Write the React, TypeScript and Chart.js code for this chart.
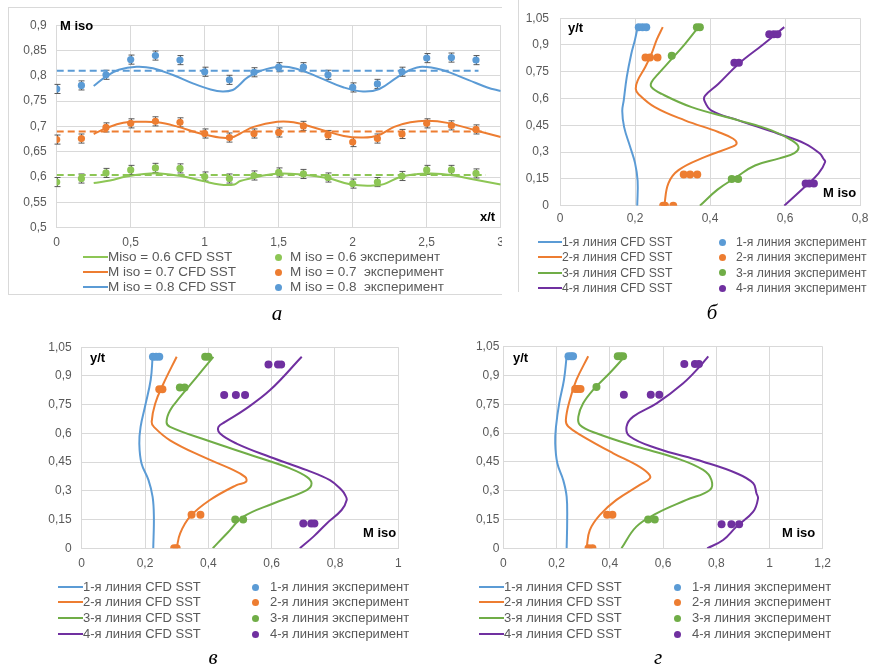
import React, { useEffect, useRef } from "react";
import { Chart, registerables } from "chart.js";
Chart.register(...registerables);

const BLUE = "#5B9BD5";
const ORANGE = "#ED7D31";
const GREEN = "#70AD47";
const PURPLE = "#7030A0";
const GREEN_A = "#8DC655";
const FONT = '"Liberation Sans", Arial, sans-serif';

// ---------- Panel а ----------
const A_EXP_X = [0, 0.167, 0.333, 0.5, 0.667, 0.833, 1, 1.167, 1.333, 1.5, 1.667, 1.833, 2, 2.167, 2.333, 2.5, 2.667, 2.833];
const A_EXP_08 = [0.774, 0.781, 0.802, 0.832, 0.84, 0.831, 0.808, 0.792, 0.807, 0.817, 0.817, 0.802, 0.777, 0.784, 0.808, 0.835, 0.836, 0.831];
const A_EXP_07 = [0.674, 0.676, 0.698, 0.706, 0.71, 0.708, 0.686, 0.678, 0.686, 0.688, 0.701, 0.683, 0.669, 0.676, 0.685, 0.706, 0.702, 0.694];
const A_EXP_06 = [0.59, 0.597, 0.608, 0.614, 0.618, 0.617, 0.601, 0.597, 0.603, 0.609, 0.606, 0.599, 0.587, 0.59, 0.602, 0.614, 0.614, 0.607];
const A_ERR = 0.009;

const A_CFD08_X = [0.25, 0.33, 0.42, 0.54, 0.65, 0.79, 0.92, 1.04, 1.12, 1.19, 1.23, 1.29, 1.38, 1.5, 1.62, 1.78, 1.94, 2.07, 2.18, 2.3, 2.39, 2.47, 2.6, 2.78, 2.91, 3.0];
const A_CFD08_Y = [0.78, 0.798, 0.812, 0.818, 0.815, 0.801, 0.785, 0.773, 0.769, 0.772, 0.781, 0.797, 0.81, 0.818, 0.814, 0.796, 0.777, 0.769, 0.774, 0.797, 0.812, 0.818, 0.812, 0.792, 0.777, 0.77];
const A_CFD07_X = [0.25, 0.34, 0.45, 0.56, 0.68, 0.81, 0.97, 1.1, 1.18, 1.24, 1.33, 1.49, 1.6, 1.76, 1.94, 2.07, 2.17, 2.28, 2.39, 2.5, 2.64, 2.82, 3.0];
const A_CFD07_Y = [0.685, 0.697, 0.707, 0.709, 0.708, 0.7, 0.686, 0.678, 0.678, 0.686, 0.699, 0.709, 0.708, 0.696, 0.681, 0.678, 0.682, 0.699, 0.708, 0.711, 0.707, 0.693, 0.679];
const A_CFD06_X = [0.25, 0.36, 0.47, 0.59, 0.7, 0.84, 0.99, 1.1, 1.2, 1.24, 1.38, 1.5, 1.65, 1.83, 1.99, 2.14, 2.21, 2.32, 2.44, 2.53, 2.66, 2.82, 3.0];
const A_CFD06_Y = [0.588, 0.593, 0.601, 0.606, 0.607, 0.602, 0.592, 0.585, 0.585, 0.592, 0.602, 0.607, 0.605, 0.598, 0.585, 0.583, 0.586, 0.6, 0.606, 0.607, 0.604, 0.595, 0.585];

const A_MEAN = [0.604, 0.69, 0.81];
const A_MEAN_END = [2.9, 2.9, 2.85];

// ---------- Panel б ----------
const B_L1_M = [0.207, 0.2, 0.19, 0.178, 0.17, 0.166, 0.171, 0.187, 0.2, 0.207, 0.206];
const B_L1_Y = [1.0, 0.93, 0.85, 0.72, 0.59, 0.53, 0.44, 0.33, 0.24, 0.14, 0.0];
const B_L2_M = [0.274, 0.258, 0.244, 0.227, 0.207, 0.202, 0.209, 0.253, 0.333, 0.422, 0.462, 0.471, 0.458, 0.387, 0.316, 0.289, 0.278];
const B_L2_Y = [1.0, 0.93, 0.85, 0.775, 0.7, 0.654, 0.626, 0.552, 0.478, 0.413, 0.375, 0.348, 0.329, 0.273, 0.199, 0.125, 0.0];
const B_L3_M = [0.369, 0.333, 0.298, 0.262, 0.244, 0.244, 0.271, 0.351, 0.476, 0.564, 0.618, 0.636, 0.625, 0.585, 0.52, 0.47, 0.42, 0.373];
const B_L3_Y = [1.0, 0.905, 0.822, 0.738, 0.691, 0.664, 0.626, 0.552, 0.478, 0.422, 0.366, 0.329, 0.295, 0.265, 0.225, 0.16, 0.09, 0.0];
const B_L4_M = [0.598, 0.54, 0.476, 0.422, 0.387, 0.385, 0.404, 0.476, 0.582, 0.653, 0.693, 0.702, 0.707, 0.689, 0.653, 0.598];
const B_L4_Y = [1.0, 0.9, 0.794, 0.682, 0.617, 0.589, 0.533, 0.478, 0.403, 0.348, 0.292, 0.264, 0.245, 0.18, 0.106, 0.0];
const B_P1_M = [0.21, 0.22, 0.23];
const B_P1_Y = [1, 1, 1];
const B_P2_M = [0.228, 0.24, 0.26, 0.33, 0.347, 0.366, 0.275, 0.28, 0.302];
const B_P2_Y = [0.83, 0.83, 0.83, 0.175, 0.175, 0.175, 0, 0, 0];
const B_P3_M = [0.365, 0.373, 0.298, 0.458, 0.475];
const B_P3_Y = [1, 1, 0.84, 0.15, 0.15];
const B_P4_M = [0.558, 0.57, 0.58, 0.465, 0.477, 0.655, 0.665, 0.677];
const B_P4_Y = [0.96, 0.96, 0.96, 0.8, 0.8, 0.125, 0.125, 0.125];

// ---------- Panel в ----------
const V_L1_M = [0.224, 0.218, 0.2, 0.186, 0.182, 0.189, 0.211, 0.224, 0.228, 0.226];
const V_L1_Y = [1.0, 0.88, 0.74, 0.634, 0.547, 0.443, 0.356, 0.269, 0.165, 0.0];
const V_L2_M = [0.3, 0.258, 0.232, 0.221, 0.228, 0.279, 0.384, 0.468, 0.516, 0.519, 0.489, 0.405, 0.342, 0.311, 0.3];
const V_L2_Y = [1.0, 0.859, 0.755, 0.66, 0.634, 0.564, 0.477, 0.417, 0.373, 0.347, 0.33, 0.252, 0.165, 0.078, 0.0];
const V_L3_M = [0.416, 0.363, 0.311, 0.279, 0.268, 0.279, 0.395, 0.553, 0.658, 0.711, 0.726, 0.711, 0.605, 0.511, 0.46, 0.414];
const V_L3_Y = [1.0, 0.894, 0.79, 0.72, 0.66, 0.634, 0.564, 0.477, 0.417, 0.373, 0.339, 0.304, 0.234, 0.165, 0.08, 0.0];
const V_L4_M = [0.695, 0.595, 0.511, 0.453, 0.432, 0.437, 0.489, 0.595, 0.711, 0.784, 0.821, 0.832, 0.837, 0.821, 0.774, 0.732, 0.689];
const V_L4_Y = [1.0, 0.826, 0.72, 0.66, 0.634, 0.599, 0.547, 0.477, 0.408, 0.356, 0.304, 0.278, 0.252, 0.2, 0.13, 0.061, 0.0];
const V_P1_M = [0.225, 0.235, 0.245];
const V_P1_Y = [1, 1, 1];
const V_P2_M = [0.245, 0.255, 0.347, 0.375, 0.292, 0.3];
const V_P2_Y = [0.83, 0.83, 0.175, 0.175, 0, 0];
const V_P3_M = [0.39, 0.4, 0.31, 0.325, 0.485, 0.51];
const V_P3_Y = [1, 1, 0.84, 0.84, 0.15, 0.15];
const V_P4_M = [0.59, 0.62, 0.63, 0.45, 0.487, 0.516, 0.7, 0.725, 0.735];
const V_P4_Y = [0.96, 0.96, 0.96, 0.8, 0.8, 0.8, 0.13, 0.13, 0.13];

// ---------- Panel г ----------
const G_L1_M = [0.238, 0.228, 0.21, 0.198, 0.195, 0.203, 0.225, 0.238, 0.24, 0.238];
const G_L1_Y = [1.0, 0.878, 0.755, 0.634, 0.547, 0.443, 0.356, 0.269, 0.148, 0.0];
const G_L2_M = [0.319, 0.275, 0.25, 0.235, 0.244, 0.3, 0.413, 0.5, 0.544, 0.551, 0.513, 0.425, 0.363, 0.325, 0.313];
const G_L2_Y = [1.0, 0.878, 0.773, 0.668, 0.634, 0.582, 0.495, 0.434, 0.391, 0.365, 0.33, 0.252, 0.174, 0.095, 0.0];
const G_L3_M = [0.457, 0.4, 0.338, 0.3, 0.282, 0.288, 0.35, 0.5, 0.651, 0.751, 0.782, 0.776, 0.688, 0.576, 0.5, 0.444];
const G_L3_Y = [1.0, 0.913, 0.826, 0.755, 0.686, 0.642, 0.599, 0.53, 0.469, 0.408, 0.356, 0.304, 0.252, 0.182, 0.113, 0.0];
const G_L4_M = [0.77, 0.738, 0.676, 0.576, 0.488, 0.463, 0.476, 0.576, 0.751, 0.876, 0.939, 0.951, 0.957, 0.939, 0.876, 0.826, 0.766];
const G_L4_Y = [1.0, 0.947, 0.86, 0.755, 0.686, 0.634, 0.582, 0.521, 0.451, 0.391, 0.339, 0.287, 0.26, 0.191, 0.113, 0.043, 0.0];
const G_P1_M = [0.245, 0.255, 0.262];
const G_P1_Y = [1, 1, 1];
const G_P2_M = [0.27, 0.28, 0.29, 0.39, 0.41, 0.32, 0.335];
const G_P2_Y = [0.83, 0.83, 0.83, 0.175, 0.175, 0, 0];
const G_P3_M = [0.43, 0.44, 0.45, 0.35, 0.544, 0.569];
const G_P3_Y = [1, 1, 1, 0.84, 0.15, 0.15];
const G_P4_M = [0.68, 0.72, 0.735, 0.453, 0.554, 0.586, 0.82, 0.857, 0.886];
const G_P4_Y = [0.96, 0.96, 0.96, 0.8, 0.8, 0.8, 0.125, 0.125, 0.125];

// ---------- Legends ----------
const A_LEGEND_LINES = ["Miso = 0.6 CFD SST", "M iso = 0.7 CFD SST", "M iso = 0.8 CFD SST"];
const A_LEGEND_POINTS = ["M iso = 0.6 эксперимент", "M iso = 0.7  эксперимент", "M iso = 0.8  эксперимент"];
const A_LEGEND_COLORS = [GREEN_A, ORANGE, BLUE];
const P_LEGEND_LINES = ["1-я линия CFD SST", "2-я линия CFD SST", "3-я линия CFD SST", "4-я линия CFD SST"];
const P_LEGEND_POINTS = ["1-я линия эксперимент", "2-я линия эксперимент", "3-я линия эксперимент", "4-я линия эксперимент"];
const P_LEGEND_COLORS = [BLUE, ORANGE, GREEN, PURPLE];

const zip = (xs: number[], ys: number[]) => xs.map((x, i) => ({ x, y: ys[i] }));
const fmt = (v: number) => String(Math.round(v * 100) / 100).replace(".", ",");

const lineDs = (data: any[], color: string, extra: any = {}) => ({
  data, borderColor: color, backgroundColor: color, showLine: true, pointRadius: 0,
  borderWidth: 2, tension: 0.4, ...extra,
});
const dotDs = (data: any[], color: string, extra: any = {}) => ({
  data, borderColor: color, backgroundColor: color, showLine: false, pointRadius: 4,
  pointBorderWidth: 0, pointBackgroundColor: color, ...extra,
});

const errPlugin = {
  id: "errBars",
  beforeDatasetsDraw(chart: any) {
    const { ctx } = chart;
    const xs = chart.scales.x, ys = chart.scales.y;
    chart.data.datasets.forEach((ds: any) => {
      if (!ds.errY) return;
      ctx.save();
      ctx.strokeStyle = "#595959";
      ctx.lineWidth = 1;
      ds.data.forEach((p: any) => {
        const px = Math.round(xs.getPixelForValue(p.x)) + 0.5;
        const y1 = ys.getPixelForValue(p.y + ds.errY);
        const y2 = ys.getPixelForValue(p.y - ds.errY);
        ctx.beginPath();
        ctx.moveTo(px, y1); ctx.lineTo(px, y2);
        ctx.moveTo(px - 3, y1); ctx.lineTo(px + 3, y1);
        ctx.moveTo(px - 3, y2); ctx.lineTo(px + 3, y2);
        ctx.stroke();
      });
      ctx.restore();
    });
  },
};

type AxisCfg = { min: number; max: number; step: number; pad: number; size: number };
type PanelCfg = {
  left: number; top: number; width: number; height: number;
  padTop: number; padRight: number; x: AxisCfg; y: AxisCfg; datasets: any[];
};

function buildOptions(p: PanelCfg) {
  const tickFont = { size: 12, family: FONT };
  const axis = (a: AxisCfg, isX: boolean) => ({
    type: "linear",
    min: a.min, max: a.max,
    afterFit: (s: any) => { if (isX) s.height = a.size; else s.width = a.size; },
    ticks: { stepSize: a.step, padding: a.pad, callback: (v: any) => fmt(Number(v)), font: tickFont, color: "#595959", maxRotation: 0, autoSkip: false },
    grid: { color: "#d9d9d9", drawTicks: false, lineWidth: 1 },
    border: { color: "#d9d9d9" },
  });
  return {
    animation: false, responsive: false, maintainAspectRatio: false, devicePixelRatio: 1,
    layout: { padding: { left: 0, top: p.padTop, right: p.padRight, bottom: 0 } },
    plugins: { legend: { display: false }, tooltip: { enabled: false } },
    scales: { x: axis(p.x, true), y: axis(p.y, false) },
  };
}

function ChartPanel({ cfg }: { cfg: PanelCfg }) {
  const ref = useRef<HTMLCanvasElement | null>(null);
  useEffect(() => {
    if (!ref.current) return;
    const chart = new Chart(ref.current, {
      type: "scatter",
      data: { datasets: cfg.datasets },
      options: buildOptions(cfg) as any,
      plugins: [errPlugin],
    } as any);
    return () => chart.destroy();
  }, []);
  return (
    <canvas ref={ref} width={cfg.width} height={cfg.height}
      style={{ position: "absolute", left: cfg.left, top: cfg.top, width: cfg.width, height: cfg.height }} />
  );
}

const panelA: PanelCfg = {
  left: 8, top: 8, width: 510, height: 250, padTop: 7.6, padRight: 17.3,
  x: { min: 0, max: 3, step: 0.5, pad: 8, size: 30.4 },
  y: { min: 0.5, max: 0.9, step: 0.05, pad: 10, size: 48.7 },
  datasets: [
    dotDs(zip(A_EXP_X, A_EXP_06), GREEN_A, { errY: A_ERR, pointRadius: 3.6 }),
    dotDs(zip(A_EXP_X, A_EXP_07), ORANGE, { errY: A_ERR, pointRadius: 3.6 }),
    dotDs(zip(A_EXP_X, A_EXP_08), BLUE, { errY: A_ERR, pointRadius: 3.6 }),
    lineDs(zip(A_CFD06_X, A_CFD06_Y), GREEN_A),
    lineDs(zip(A_CFD07_X, A_CFD07_Y), ORANGE),
    lineDs(zip(A_CFD08_X, A_CFD08_Y), BLUE),
    lineDs([{ x: 0, y: A_MEAN[0] }, { x: A_MEAN_END[0], y: A_MEAN[0] }], GREEN_A, { tension: 0, borderDash: [7, 4] }),
    lineDs([{ x: 0, y: A_MEAN[1] }, { x: A_MEAN_END[1], y: A_MEAN[1] }], ORANGE, { tension: 0, borderDash: [7, 4] }),
    lineDs([{ x: 0, y: A_MEAN[2] }, { x: A_MEAN_END[2], y: A_MEAN[2] }], BLUE, { tension: 0, borderDash: [7, 4] }),
  ],
};

const profileSets = (L: number[][], P: number[][]) => [
  dotDs(zip(P[0], P[1]), BLUE), dotDs(zip(P[2], P[3]), ORANGE), dotDs(zip(P[4], P[5]), GREEN), dotDs(zip(P[6], P[7]), PURPLE),
  lineDs(zip(L[0], L[1]), BLUE), lineDs(zip(L[2], L[3]), ORANGE), lineDs(zip(L[4], L[5]), GREEN), lineDs(zip(L[6], L[7]), PURPLE),
];

const panelB: PanelCfg = {
  left: 518, top: 0, width: 365, height: 240, padTop: 17.3, padRight: 23,
  x: { min: 0, max: 0.8, step: 0.2, pad: 6, size: 34.3 },
  y: { min: 0, max: 1.05, step: 0.15, pad: 11, size: 42 },
  datasets: profileSets(
    [B_L1_M, B_L1_Y, B_L2_M, B_L2_Y, B_L3_M, B_L3_Y, B_L4_M, B_L4_Y],
    [B_P1_M, B_P1_Y, B_P2_M, B_P2_Y, B_P3_M, B_P3_Y, B_P4_M, B_P4_Y]),
};

const panelV: PanelCfg = {
  left: 25, top: 330, width: 400, height: 250, padTop: 16.7, padRight: 26.7,
  x: { min: 0, max: 1, step: 0.2, pad: 8.5, size: 31.7 },
  y: { min: 0, max: 1.05, step: 0.15, pad: 10, size: 56.7 },
  datasets: profileSets(
    [V_L1_M, V_L1_Y, V_L2_M, V_L2_Y, V_L3_M, V_L3_Y, V_L4_M, V_L4_Y],
    [V_P1_M, V_P1_Y, V_P2_M, V_P2_Y, V_P3_M, V_P3_Y, V_P4_M, V_P4_Y]),
};

const panelG: PanelCfg = {
  left: 455, top: 330, width: 400, height: 250, padTop: 16.7, padRight: 32.3,
  x: { min: 0, max: 1.2, step: 0.2, pad: 8.5, size: 31.7 },
  y: { min: 0, max: 1.05, step: 0.15, pad: 4, size: 48.3 },
  datasets: profileSets(
    [G_L1_M, G_L1_Y, G_L2_M, G_L2_Y, G_L3_M, G_L3_Y, G_L4_M, G_L4_Y],
    [G_P1_M, G_P1_Y, G_P2_M, G_P2_Y, G_P3_M, G_P3_Y, G_P4_M, G_P4_Y]),
};

const txt: React.CSSProperties = { position: "absolute", whiteSpace: "pre", fontFamily: FONT, lineHeight: "16px" };

function Legend({ lines, points, colors, lineX, textX, dotX, ptTextX, rows, size }: any) {
  const out: any[] = [];
  rows.forEach((cy: number, i: number) => {
    out.push(<div key={"l" + i} style={{ position: "absolute", left: lineX, top: cy - 1, width: textX - lineX, height: 2, background: colors[i] }} />);
    out.push(<span key={"t" + i} style={{ ...txt, left: textX, top: cy - 8, fontSize: size, color: "#595959" }}>{lines[i]}</span>);
    out.push(<div key={"d" + i} style={{ position: "absolute", left: dotX - 3.5, top: cy - 3.5, width: 7, height: 7, borderRadius: "50%", background: colors[i] }} />);
    out.push(<span key={"p" + i} style={{ ...txt, left: ptTextX, top: cy - 8, fontSize: size, color: "#595959" }}>{points[i]}</span>);
  });
  return <>{out}</>;
}

const Bold = ({ x, y, children }: any) => (
  <span style={{ ...txt, left: x, top: y - 8, fontSize: 13, fontWeight: "bold", color: "#000" }}>{children}</span>
);
const Caption = ({ cx, cy, children }: any) => (
  <span style={{ position: "absolute", left: cx - 20, width: 40, textAlign: "center", top: cy - 12, lineHeight: "24px", fontSize: 21, fontStyle: "italic", fontFamily: '"Liberation Serif", "DejaVu Serif", serif', color: "#000" }}>{children}</span>
);

export default function App() {
  return (
    <div style={{ position: "absolute", left: 0, top: 0, width: 870, height: 666, overflow: "hidden", background: "#fff" }}>
      {/* panel а */}
      <div style={{ position: "absolute", left: 0, top: 0, width: 502, height: 300, overflow: "hidden" }}>
        <div style={{ position: "absolute", left: 8, top: 7, width: 600, height: 286, border: "1px solid #d9d9d9" }} />
        <ChartPanel cfg={panelA} />
        <Bold x={60} y={26}>M iso</Bold>
        <Bold x={480} y={217}>x/t</Bold>
        <Legend lines={A_LEGEND_LINES} points={A_LEGEND_POINTS} colors={A_LEGEND_COLORS}
          lineX={83} textX={108} dotX={278} ptTextX={290} rows={[257, 272, 287]} size={13.5} />
      </div>
      <Caption cx={277} cy={313}>а</Caption>

      {/* panel б */}
      <div style={{ position: "absolute", left: 518, top: 0, width: 1, height: 292, background: "#d9d9d9" }} />
      <ChartPanel cfg={panelB} />
      <Bold x={568} y={28}>y/t</Bold>
      <Bold x={823} y={193}>M iso</Bold>
      <Legend lines={P_LEGEND_LINES} points={P_LEGEND_POINTS} colors={P_LEGEND_COLORS}
        lineX={538} textX={562} dotX={722} ptTextX={736} rows={[242, 257, 272.5, 288]} size={12.2} />
      <Caption cx={712} cy={312}>б</Caption>

      {/* panel в */}
      <ChartPanel cfg={panelV} />
      <Bold x={90} y={358}>y/t</Bold>
      <Bold x={363} y={533}>M iso</Bold>
      <Legend lines={P_LEGEND_LINES} points={P_LEGEND_POINTS} colors={P_LEGEND_COLORS}
        lineX={58} textX={83} dotX={255} ptTextX={270} rows={[587, 602, 618, 634]} size={13} />
      <Caption cx={213} cy={657}>в</Caption>

      {/* panel г */}
      <ChartPanel cfg={panelG} />
      <Bold x={513} y={358}>y/t</Bold>
      <Bold x={782} y={533}>M iso</Bold>
      <Legend lines={P_LEGEND_LINES} points={P_LEGEND_POINTS} colors={P_LEGEND_COLORS}
        lineX={479} textX={504} dotX={677} ptTextX={692} rows={[587, 602, 618, 634]} size={13} />
      <Caption cx={658} cy={657}>г</Caption>
    </div>
  );
}
